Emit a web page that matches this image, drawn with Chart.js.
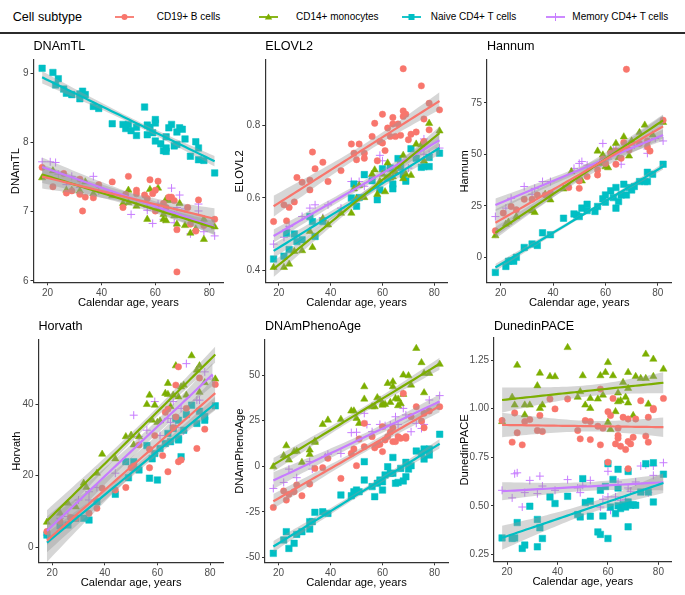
<!DOCTYPE html>
<html>
<head>
<meta charset="utf-8">
<script src="https://cdn.jsdelivr.net/npm/chart.js@4.4.1/dist/chart.umd.min.js"></script>
<style>
  body { margin: 0; background: #fff; font-family: "Liberation Sans", Arial, sans-serif; }
  #page { position: relative; width: 685px; height: 595px; overflow: hidden; }
  canvas { position: absolute; }
  .lg { position: absolute; white-space: nowrap; line-height: 1; color: #000; }
  .key { position: absolute; }
</style>
</head>
<body>
<div id="page">
  <div class="lg" style="left:12.7px;top:11px;font-size:12.6px">Cell subtype</div>
  <svg class="key" style="left:115px;top:12px" width="19" height="10"><line x1="0" y1="5" x2="19" y2="5" stroke="#F8766D" stroke-width="1.8"/><circle cx="9.5" cy="5" r="3" fill="#F8766D"/></svg>
  <div class="lg" style="left:156.7px;top:12.3px;font-size:10px">CD19+ B cells</div>
  <svg class="key" style="left:259px;top:12px" width="19" height="10"><line x1="0" y1="5" x2="19" y2="5" stroke="#7CAE00" stroke-width="1.8"/><polygon points="9.5,1.5 13.2,7.5 5.8,7.5" fill="#7CAE00"/></svg>
  <div class="lg" style="left:296px;top:12.3px;font-size:10px">CD14+ monocytes</div>
  <svg class="key" style="left:402px;top:12px" width="19" height="10"><line x1="0" y1="5" x2="19" y2="5" stroke="#00BFC4" stroke-width="1.8"/><rect x="6.5" y="2" width="6" height="6" fill="#00BFC4"/></svg>
  <div class="lg" style="left:430.7px;top:12.3px;font-size:10px">Naive CD4+ T cells</div>
  <svg class="key" style="left:546px;top:12px" width="19" height="10"><line x1="0" y1="5" x2="19" y2="5" stroke="#C77CFF" stroke-width="1.8"/><line x1="9.5" y1="1" x2="9.5" y2="9" stroke="#C77CFF" stroke-width="1"/></svg>
  <div class="lg" style="left:572.3px;top:12.3px;font-size:10px">Memory CD4+ T cells</div>
  <div style="position:absolute;left:0;top:32.3px;width:685px;height:2px;background:#2b2b2b"></div>
</div>
<script>
// Cell subtypes and look
const CATS = ['CD19+ B cells', 'CD14+ monocytes', 'Naive CD4+ T cells', 'Memory CD4+ T cells'];
const COLORS = ['#F8766D', '#7CAE00', '#00BFC4', '#C77CFF'];
const SHAPES = ['circle', 'triangle', 'rect', 'cross'];
const RADII = [3.2, 4.2, 4.6, 4];

const xTicks = [20, 40, 60, 80];

// DNAmTL  [age, value]
const tlB = [[18,7.64],[22,7.36],[26,7.55],[27,7.27],[29,7.30],[32,7.47],[32,7.25],[33,7.01],[34,7.21],[37,7.20],[39,7.39],[44,7.43],[48,7.06],[50,7.51],[49,7.25],[53,7.31],[53,7.26],[56,7.24],[57,7.19],[58,7.46],[59,7.26],[60,7.31],[61,7.44],[60,7.01],[63,7.12],[64,7.06],[65,7.21],[66,7.21],[67,7.16],[68,6.74],[68,6.13],[72,7.06],[73,6.82],[76,7.17],[75,6.72],[78,6.80],[82,6.89]];
const tlMono = [[18,7.49],[22,7.59],[27,7.31],[29,7.31],[32,7.30],[34,7.43],[37,7.26],[44,7.23],[48,7.12],[50,7.31],[50,7.13],[53,7.08],[57,6.89],[58,7.32],[61,7.34],[61,7.04],[63,6.89],[64,7.18],[64,6.87],[65,7.16],[67,6.94],[68,6.82],[69,7.12],[71,6.80],[73,6.69],[75,6.75],[78,6.60],[78,6.89],[82,6.78],[63,6.96]];
const tlNaive = [[18,9.07],[22,9.01],[23,8.83],[24,8.92],[26,8.77],[27,8.71],[29,8.69],[32,8.70],[32,8.63],[33,8.74],[34,8.69],[37,8.52],[39,8.49],[44,8.27],[48,8.26],[49,8.20],[50,8.26],[51,8.17],[53,8.10],[53,8.22],[56,8.51],[57,8.25],[57,8.11],[58,8.22],[59,8.14],[60,8.33],[60,8.02],[60,8.28],[62,7.98],[63,7.88],[64,8.08],[64,7.92],[64,7.87],[65,8.21],[66,8.26],[67,7.95],[68,8.15],[68,7.97],[69,8.21],[70,8.19],[71,8.05],[73,7.80],[75,8.01],[76,7.92],[76,7.75],[78,7.74],[82,7.56]];
const tlMem = [[18,7.72],[21,7.72],[23,7.71],[24,7.54],[29,7.51],[37,7.51],[39,7.30],[51,6.96],[57,7.06],[59,6.83],[61,7.11],[66,7.34],[68,7.06],[69,7.24],[71,7.04],[73,6.68],[76,7.01],[78,6.71],[82,6.65],[27,7.39],[32,7.35],[57,7.02],[63,6.89],[67,6.84],[76,7.11]];

// ELOVL2
const elB = [[18,0.535],[22,0.581],[23,0.537],[24,0.574],[26,0.589],[27,0.656],[29,0.643],[32,0.649],[32,0.622],[33,0.726],[34,0.68],[37,0.698],[39,0.645],[44,0.675],[48,0.748],[49,0.723],[50,0.705],[51,0.748],[53,0.723],[53,0.709],[56,0.769],[57,0.805],[58,0.702],[59,0.755],[60,0.83],[60,0.751],[61,0.73],[62,0.792],[63,0.769],[64,0.821],[64,0.803],[65,0.769],[66,0.803],[67,0.772],[68,0.955],[68,0.839],[68,0.824],[69,0.83],[70,0.76],[71,0.775],[73,0.781],[75,0.908],[76,0.817],[76,0.755],[78,0.86],[78,0.787],[82,0.842]];
const elMono = [[18,0.409],[22,0.409],[24,0.418],[26,0.453],[29,0.455],[32,0.508],[33,0.464],[37,0.543],[39,0.526],[44,0.558],[48,0.558],[49,0.625],[50,0.598],[51,0.634],[53,0.601],[56,0.665],[57,0.677],[58,0.61],[59,0.645],[60,0.665],[61,0.617],[62,0.696],[63,0.655],[65,0.671],[66,0.687],[68,0.717],[68,0.653],[69,0.665],[71,0.662],[73,0.748],[75,0.746],[76,0.702],[78,0.805],[82,0.784],[64,0.658]];
const elNaive = [[18,0.432],[22,0.44],[23,0.503],[24,0.458],[26,0.501],[27,0.48],[29,0.485],[32,0.549],[33,0.535],[34,0.494],[37,0.535],[48,0.6],[49,0.638],[50,0.577],[51,0.601],[53,0.664],[56,0.647],[58,0.595],[59,0.622],[60,0.68],[62,0.655],[63,0.682],[64,0.625],[64,0.638],[66,0.708],[67,0.684],[68,0.664],[69,0.646],[71,0.735],[73,0.709],[75,0.684],[76,0.686],[78,0.686],[78,0.711],[82,0.723]];
const elMem = [[18,0.473],[23,0.513],[24,0.522],[29,0.549],[32,0.572],[34,0.581],[37,0.546],[39,0.581],[48,0.645],[51,0.645],[53,0.632],[56,0.659],[59,0.717],[60,0.702],[63,0.682],[65,0.675],[67,0.7],[70,0.682],[73,0.714],[76,0.72],[76,0.762],[78,0.719],[82,0.737],[22,0.492],[44,0.572]];

// Hannum
const haB = [[18,12.9],[21,21.5],[24,24.7],[26,23.1],[29,28.2],[32,28.2],[34,30.3],[37,30.3],[39,31.1],[46,33.9],[50,33.5],[50,37.1],[53,39.2],[57,42.4],[57,40],[59,47.7],[60,45.6],[62,50.5],[64,45.2],[67,55.8],[68,91.3],[69,52.1],[73,55.3],[76,56.5],[77,51.6],[82,66.6],[66,48.1],[64,51.6],[76,53.7]];
const haMono = [[18,10.5],[22,16.1],[23,17.1],[26,19.8],[32,22.6],[33,21.8],[37,30.6],[39,27.9],[44,33.2],[47,41.6],[50,37.6],[51,37.1],[57,51.6],[58,45.6],[60,44],[61,43.5],[64,55.3],[65,48.4],[67,58.5],[69,49.2],[70,56.5],[73,60.6],[75,64.2],[78,59.4],[82,65.5],[59,49.7],[62,52.1]];
const haNaive = [[18,-7.3],[22,-4.4],[23,-1.9],[24,-1.6],[25,-1.9],[26,0],[29,4.8],[32,6.5],[34,5.8],[36,11.9],[39,11],[44,19],[48,21.1],[49,20.6],[50,19.8],[51,23.9],[53,25.8],[53,22.7],[56,22.3],[57,24.7],[59,28.4],[60,30.3],[60,26.8],[62,32.3],[63,29],[64,33.9],[64,23.9],[65,27.1],[66,30.3],[67,35.5],[68,30.3],[69,33.9],[70,32.7],[71,34.4],[73,36.8],[75,36.8],[76,41.3],[76,36.8],[78,40.3],[82,45.2]];
const haMem = [[18,19.8],[22,23.9],[24,28.7],[29,34.4],[32,30.6],[33,33.5],[36,36.8],[39,36.8],[48,43.2],[50,45.6],[51,46.5],[53,44.8],[59,55.3],[61,47.7],[63,52.1],[64,52.9],[66,45.2],[69,54.8],[71,54.5],[76,52.6],[76,50.5],[79,57.7],[82,56.5],[57,44]];

// Horvath
const hoB = [[18,4.4],[23,7.2],[27,8.3],[29,8.1],[34,9.5],[37,10.9],[39,16.5],[44,16],[48,16.7],[50,22.2],[51,22.7],[53,28.6],[57,22.2],[57,27.4],[59,31.2],[62,25.6],[63,37.7],[64,21.1],[64,38.6],[66,33.4],[67,45.3],[68,50.4],[68,23.9],[69,24.4],[71,38.8],[75,27.6],[76,47.3],[78,33],[82,45.5],[67,36.4]];
const hoMono = [[18,7],[23,9.5],[26,12.3],[29,11.3],[32,17.9],[33,16.7],[37,20.7],[39,26],[44,24.7],[48,30.9],[50,31.3],[51,28.6],[53,30.9],[56,39.9],[57,42.5],[58,35.5],[59,39.7],[60,34.9],[61,35.3],[63,43],[64,45.8],[64,42.7],[65,39.3],[66,42.5],[67,50.7],[68,42],[69,44.8],[70,45.3],[71,42.5],[73,53.5],[75,49.5],[76,50.7],[78,46],[82,47],[76,43.3]];
const hoNaive = [[18,3.4],[23,6],[26,6.2],[29,8.1],[32,8.1],[34,7.6],[37,12.7],[44,14.8],[48,23.9],[49,19.4],[51,23.9],[53,21.6],[56,28.4],[57,19.3],[58,24.7],[59,26.2],[60,18.8],[61,27.6],[63,29],[64,31.8],[65,29.5],[66,33.2],[67,36],[68,30.4],[68,35.5],[69,25.3],[70,32.7],[71,37.1],[73,39.7],[75,34.6],[76,38],[78,35.5],[78,36.5],[82,39.5],[68,30]];
const hoMem = [[18,3.4],[23,8.1],[26,8.6],[34,15.5],[37,16.7],[44,20.7],[51,36.9],[56,32.7],[59,40.7],[61,31.2],[64,36],[65,34.9],[66,40.7],[67,33.4],[69,38.8],[70,32.5],[71,51.3],[75,41.1],[76,41.1],[78,49],[81,47],[30,13.2],[34,13.2],[53,30.9]];

// DNAmPhenoAge
const phB = [[18,-22.6],[22,-13.6],[23,-18.6],[24,-15.4],[26,-14],[27,-10.3],[29,-16.2],[32,-9.8],[34,-1.2],[37,-0.8],[39,4.3],[44,-6.7],[48,7],[49,9.4],[50,0.3],[51,14.9],[53,23.5],[53,10.7],[56,16.2],[57,10.1],[58,11.6],[59,12],[60,8],[60,21.7],[61,14.4],[62,16.2],[63,18.6],[64,13.5],[64,21.1],[65,13.5],[66,16.2],[67,15.3],[68,39.9],[69,15.3],[69,16.2],[71,27.1],[73,32.6],[75,24.8],[76,21.1],[76,29],[78,30.3],[82,32.6]];
const phMono = [[18,-0.3],[22,5.8],[23,11.2],[24,3.4],[26,8],[27,8.3],[29,2.1],[32,8.9],[32,6.5],[34,13.8],[34,13.1],[37,22.9],[39,25.3],[44,25.7],[48,30.3],[49,30.3],[50,26.2],[51,23.5],[53,43.6],[53,36.8],[56,32.6],[57,32.6],[58,37.6],[59,36.3],[60,33.5],[60,34.5],[61,33.9],[62,45.4],[63,35],[64,43.6],[64,46.3],[65,37.2],[66,33.2],[66,36.8],[67,34.3],[68,39.4],[68,50],[70,49.6],[71,44.5],[73,64.6],[75,56.8],[76,40.3],[76,50.9],[78,50.9],[82,55.9]];
const phNaive = [[18,-47.8],[22,-40.5],[23,-35.9],[24,-45.1],[26,-42.3],[27,-37.4],[29,-35.9],[32,-34.5],[32,-30.4],[33,-30.4],[34,-25.3],[37,-25],[39,-25.9],[44,-15.8],[48,-16.2],[49,-14],[50,-13.1],[51,-14],[53,-7.6],[53,2.5],[56,-11.2],[57,-16.7],[58,-9.4],[59,-7.6],[60,-8.5],[60,-13.1],[61,-4.8],[62,-0.3],[63,-3.9],[64,4.8],[64,-3.9],[65,-9.4],[66,-8.9],[67,-1.2],[68,-8.1],[69,2.1],[69,-5.8],[70,-1.6],[71,0.3],[73,8.3],[75,7],[76,9.4],[76,3.9],[78,6.1],[78,9.4],[82,17.5]];
const phMem = [[18,-12.2],[22,-8.9],[24,-1.6],[27,-6.3],[32,2.5],[33,-1.6],[38,5.2],[39,6.5],[48,18.4],[50,18.6],[53,29],[56,18.9],[59,22.9],[61,22.2],[63,22.6],[65,27.1],[66,22.9],[68,31.7],[69,28.1],[71,18.9],[73,23.5],[75,20.7],[76,22.9],[78,36.3],[82,38.7],[54,22.9],[44,7]];

// DunedinPACE
const dpB = [[18,0.939],[22,0.828],[23,0.978],[24,0.876],[26,0.814],[27,0.934],[29,0.944],[32,0.888],[33,0.965],[34,0.883],[37,1.05],[39,0.999],[44,1.05],[48,0.888],[49,0.845],[51,0.939],[53,0.934],[53,0.841],[56,0.91],[57,1.101],[57,0.814],[58,0.9],[60,0.985],[60,0.725],[61,0.965],[62,1.053],[63,0.819],[64,0.862],[64,0.848],[64,0.9],[65,0.807],[66,0.956],[67,0.79],[68,0.947],[68,0.831],[68,0.691],[69,0.819],[70,0.853],[71,0.947],[73,1.041],[75,0.859],[76,0.828],[76,0.956],[78,1.002],[78,0.995],[82,1.053]];
const dpMono = [[18,0.934],[22,1.059],[23,1.019],[24,1.224],[27,0.968],[27,1.019],[29,1.019],[32,1.118],[33,1.002],[33,1.183],[34,1.019],[37,1.166],[39,1.165],[44,1.315],[48,1.059],[49,1.088],[50,1.17],[51,1.019],[53,1.002],[53,1.053],[56,1.05],[57,1.17],[58,1.07],[59,1.187],[60,0.93],[60,1.238],[61,0.893],[62,1.17],[63,0.985],[64,1.081],[64,1.036],[65,1.041],[66,1.135],[67,1.059],[68,1.105],[68,1.03],[68,1.187],[70,0.965],[71,1.166],[73,1.156],[75,1.156],[75,1.281],[76,1.024],[78,1.255],[78,1.166],[82,1.204]];
const dpNaive = [[18,0.335],[22,0.332],[23,0.335],[24,0.414],[26,0.281],[27,0.298],[29,0.498],[32,0.43],[32,0.289],[33,0.387],[34,0.332],[37,0.546],[39,0.512],[44,0.549],[48,0.455],[49,0.443],[50,0.64],[51,0.517],[53,0.524],[53,0.447],[56,0.366],[57,0.58],[57,0.353],[58,0.448],[59,0.6],[60,0.332],[60,0.717],[61,0.494],[62,0.636],[63,0.46],[64,0.5],[64,0.592],[64,0.688],[65,0.486],[66,0.506],[67,0.494],[68,0.52],[68,0.392],[68,0.677],[69,0.503],[70,0.506],[71,0.503],[73,0.571],[75,0.717],[76,0.571],[78,0.722],[78,0.52],[82,0.663]];
const dpMem = [[18,0.58],[22,0.541],[23,0.665],[24,0.67],[26,0.494],[27,0.568],[29,0.631],[32,0.563],[33,0.653],[34,0.602],[39,0.58],[44,0.635],[48,0.592],[49,0.568],[50,0.606],[53,0.631],[57,0.494],[58,0.534],[60,0.546],[60,0.678],[61,0.477],[63,0.546],[64,0.623],[65,0.529],[67,0.534],[68,0.592],[69,0.575],[71,0.623],[73,0.705],[75,0.711],[76,0.568],[78,0.705],[78,0.657],[82,0.722]];

// y tick labels per panel
const ticksTL = [6, 7, 8, 9];
const ticksEL = [0.4, 0.6, 0.8];
const ticksHA = [0, 25, 50, 75];
const ticksHO = [0, 20, 40];
const ticksPH = [-50, -25, 0, 25, 50];
const ticksDP = [0.25, 0.5, 0.75, 1.0, 1.25];

const panels = [
  { name: 'DNAmTL', series: [tlB, tlMono, tlNaive, tlMem], ticks: ticksTL, dec: 0, ymin: 5.98, ymax: 9.19,
    left: 33.5, right: 223.3, top: 60, bottom: 282.3, titleY: 46.7, yTitleX: 15.5 },
  { name: 'ELOVL2', series: [elB, elMono, elNaive, elMem], ticks: ticksEL, dec: 1, ymin: 0.367, ymax: 0.979,
    left: 265.3, right: 447.8, top: 60, bottom: 282.7, titleY: 46.7, yTitleX: 240 },
  { name: 'Hannum', series: [haB, haMono, haNaive, haMem], ticks: ticksHA, dec: 0, ymin: -12.3, ymax: 95.8,
    left: 487, right: 671.5, top: 60, bottom: 282.7, titleY: 46.7, yTitleX: 465 },
  { name: 'Horvath', series: [hoB, hoMono, hoNaive, hoMem], ticks: ticksHO, dec: 0, ymin: -4.2, ymax: 57.9,
    left: 38.5, right: 223.7, top: 340, bottom: 562.3, titleY: 326.5, yTitleX: 17.3 },
  { name: 'DNAmPhenoAge', series: [phB, phMono, phNaive, phMem], ticks: ticksPH, dec: 0, ymin: -52.7, ymax: 69.2,
    left: 265, right: 448, top: 340, bottom: 562.3, titleY: 326.5, yTitleX: 240 },
  { name: 'DunedinPACE', series: [dpB, dpMono, dpNaive, dpMem], ticks: ticksDP, dec: 2, ymin: 0.212, ymax: 1.364,
    left: 494, right: 671.5, top: 338, bottom: 561.8, titleY: 326.5, yTitleX: 465 }
];

Chart.defaults.font.family = '"Liberation Sans", Arial, sans-serif';

// linear fit with 95% confidence band, like geom_smooth(method = "lm")
function lmFit(pts) {
  const n = pts.length;
  let mx = 0, my = 0;
  pts.forEach(p => { mx += p[0]; my += p[1]; });
  mx /= n; my /= n;
  let sxx = 0, sxy = 0;
  pts.forEach(p => { sxx += (p[0] - mx) ** 2; sxy += (p[0] - mx) * (p[1] - my); });
  const b = sxy / sxx, a = my - b * mx;
  let sse = 0;
  pts.forEach(p => { sse += (p[1] - a - b * p[0]) ** 2; });
  const s = Math.sqrt(sse / (n - 2));
  const t = 1.96 + 2.4 / (n - 2);
  const xs = pts.map(p => p[0]);
  const x0 = Math.min(...xs), x1 = Math.max(...xs);
  const up = [], lo = [], line = [];
  for (let i = 0; i <= 40; i++) {
    const x = x0 + (x1 - x0) * i / 40;
    const y = a + b * x;
    const se = s * Math.sqrt(1 / n + (x - mx) ** 2 / sxx);
    up.push({ x: x, y: y + t * se });
    lo.push({ x: x, y: y - t * se });
    line.push({ x: x, y: y });
  }
  return { up, lo, line };
}

const titlePlugin = {
  id: 'panelTitle',
  afterDraw(chart, args, opts) {
    const ctx = chart.ctx;
    ctx.save();
    ctx.font = '12.6px "Liberation Sans", Arial, sans-serif';
    ctx.fillStyle = '#000';
    ctx.textBaseline = 'middle';
    ctx.textAlign = 'left';
    ctx.fillText(opts.text, chart.chartArea.left, opts.y);
    ctx.restore();
  }
};

const page = document.getElementById('page');
const X_TITLE_H = 27;

panels.forEach(p => {
  const cLeft = Math.round(p.yTitleX - 10);
  const cTop = Math.round(p.top - 26);
  const cRight = Math.round(p.right + 6);
  const cBottom = Math.round(p.bottom + X_TITLE_H + 3);
  const canvas = document.createElement('canvas');
  canvas.width = cRight - cLeft;
  canvas.height = cBottom - cTop;
  canvas.style.left = cLeft + 'px';
  canvas.style.top = cTop + 'px';
  page.appendChild(canvas);

  const padLeft = p.yTitleX - 6.72 - cLeft;
  const yWidth = p.left - cLeft - padLeft;

  const datasets = [];
  p.series.forEach((s, i) => {
    datasets.push({
      type: 'scatter', label: CATS[i], order: 2,
      data: s.map(d => ({ x: d[0], y: d[1] })),
      pointStyle: SHAPES[i], pointRadius: RADII[i], pointHoverRadius: RADII[i],
      backgroundColor: COLORS[i], borderColor: COLORS[i],
      borderWidth: SHAPES[i] === 'cross' ? 1 : 0.5
    });
  });
  const fits = p.series.map(lmFit);
  fits.forEach(f => {
    datasets.push({ type: 'line', order: 1, data: f.up, fill: '+1', backgroundColor: 'rgba(153,153,153,0.4)',
      borderColor: 'transparent', pointRadius: 0, tension: 0 });
    datasets.push({ type: 'line', order: 1, data: f.lo, fill: false,
      borderColor: 'transparent', pointRadius: 0, tension: 0 });
  });
  fits.forEach((f, i) => {
    datasets.push({ type: 'line', order: 0, data: f.line, fill: false, borderColor: COLORS[i],
      borderWidth: 2.2, pointRadius: 0, tension: 0 });
  });

  new Chart(canvas, {
    type: 'scatter',
    data: { datasets: datasets },
    options: {
      responsive: false,
      animation: false,
      events: [],
      layout: { padding: { left: padLeft, top: p.top - cTop, right: cRight - p.right, bottom: cBottom - p.bottom - X_TITLE_H } },
      plugins: {
        legend: { display: false },
        tooltip: { enabled: false },
        panelTitle: { text: p.name, y: p.titleY - cTop }
      },
      scales: {
        x: {
          type: 'linear', min: 14.8, max: 85.2,
          afterBuildTicks: sc => { sc.ticks = xTicks.map(v => ({ value: v })); },
          afterFit: sc => { sc.height = X_TITLE_H; },
          ticks: { color: '#4d4d4d', font: { size: 10 }, padding: 1.5, maxRotation: 0, autoSkip: false },
          grid: { drawOnChartArea: false, drawTicks: true, tickLength: 3, color: '#333', lineWidth: 1 },
          border: { display: true, color: '#333', width: 1.2 },
          title: { display: true, text: 'Calendar age, years', color: '#000', font: { size: 11.2 }, padding: 0 }
        },
        y: {
          type: 'linear', min: p.ymin, max: p.ymax,
          afterBuildTicks: sc => { sc.ticks = p.ticks.map(v => ({ value: v })); },
          afterFit: sc => { sc.width = yWidth; },
          ticks: { color: '#4d4d4d', font: { size: 10 }, padding: 2, autoSkip: false,
            callback: v => v.toFixed(p.dec) },
          grid: { drawOnChartArea: false, drawTicks: true, tickLength: 3, color: '#333', lineWidth: 1 },
          border: { display: true, color: '#333', width: 1.2 },
          title: { display: true, text: p.name, color: '#000', font: { size: 11.2 }, padding: 0 }
        }
      }
    },
    plugins: [titlePlugin]
  });
});
</script>
</body>
</html>
